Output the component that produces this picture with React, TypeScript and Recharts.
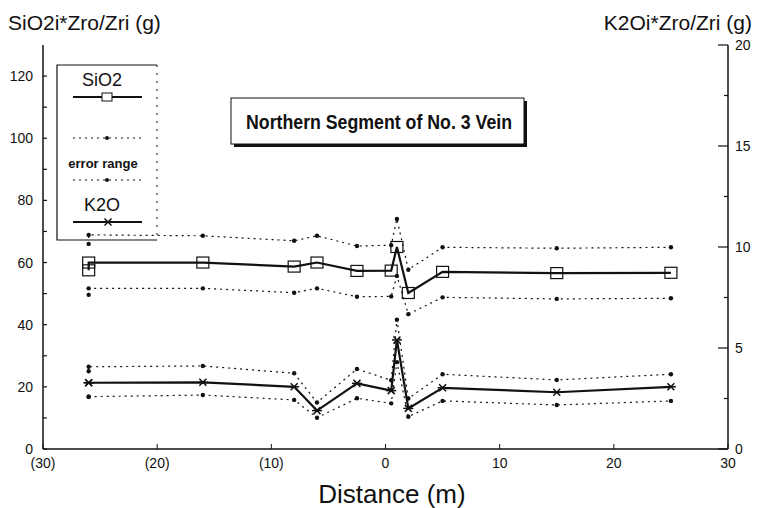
import { LineChart, Line, XAxis, YAxis } from 'recharts'

const DIST = [-26, -26, -16, -8, -6, -2.5, 0.5, 1, 2, 5, 15, 25]
const SIO2 = [57.5, 60, 60, 58.7, 60, 57.3, 57.4, 65, 50.2, 57, 56.6, 56.7]
const SIO2_HI = [66, 68.9, 68.6, 67, 68.6, 65.3, 65.6, 74, 57.7, 64.9, 64.6, 64.9]
const SIO2_LO = [49.6, 51.7, 51.7, 50.3, 51.7, 49, 49.1, 55.7, 43.4, 48.8, 48.3, 48.5]
const K2O = [3.28, 3.28, 3.3, 3.08, 1.9, 3.25, 2.89, 5.4, 2.01, 3.03, 2.81, 3.08]
const K2O_HI = [3.85, 4.07, 4.11, 3.75, 2.3, 3.96, 3.4, 6.4, 2.5, 3.7, 3.42, 3.7]
const K2O_LO = [2.59, 2.59, 2.67, 2.43, 1.55, 2.51, 2.26, 4.3, 1.6, 2.38, 2.18, 2.38]

const X_TICKS = [-30, -20, -10, 0, 10, 20, 30]
const SI_TICKS = [0, 10, 20, 30, 40, 50, 60, 70, 80, 90, 100, 110, 120]
const K_TICKS = [0, 2.5, 5, 7.5, 10, 12.5, 15, 17.5, 20]

const rows = DIST.map((d, i) => ({
  d,
  si: SIO2[i], siHi: SIO2_HI[i], siLo: SIO2_LO[i],
  k: K2O[i], kHi: K2O_HI[i], kLo: K2O_LO[i],
}))

const INK = '#111'
const FONT = '"Liberation Sans", Arial, sans-serif'

function LeftTick({ x, y, payload }: any) {
  const v = payload.value
  return (
    <g>
      <line x1={x + 10} x2={x + 14} y1={y} y2={y} stroke={INK} strokeWidth={1.2} />
      {v % 20 === 0 && (
        <text x={x} y={y} textAnchor="end" dominantBaseline="central" fontSize={14} fill={INK} fontFamily={FONT}>{v}</text>
      )}
    </g>
  )
}

function RightTick({ x, y, payload }: any) {
  const v = payload.value
  const major = v % 5 === 0
  return (
    <g>
      <line x1={x - 7 - (major ? 10 : 4)} x2={x - 7} y1={y} y2={y} stroke={INK} strokeWidth={1.2} />
      {major && (
        <text x={x} y={y} textAnchor="start" dominantBaseline="central" fontSize={14} fill={INK} fontFamily={FONT}>{v}</text>
      )}
    </g>
  )
}

function BottomTick({ x, y, payload }: any) {
  const v = payload.value
  const label = v < 0 ? `(${-v})` : `${v}`
  return (
    <g>
      <line x1={x} x2={x} y1={y - 9} y2={y - 14} stroke={INK} strokeWidth={1} />
      <text x={x} y={y} dy="0.71em" textAnchor="middle" fontSize={14} fill={INK} fontFamily={FONT}>{label}</text>
    </g>
  )
}

function SquareDot({ cx, cy }: any) {
  return <rect x={cx - 6} y={cy - 5.5} width={12} height={11} fill="none" stroke={INK} strokeWidth={1.2} />
}

function StarDot({ cx, cy }: any) {
  return (
    <g stroke={INK} strokeWidth={1.5}>
      <line x1={cx - 5} x2={cx + 5} y1={cy} y2={cy} />
      <line x1={cx - 3.5} x2={cx + 3.5} y1={cy - 3.5} y2={cy + 3.5} />
      <line x1={cx - 3.5} x2={cx + 3.5} y1={cy + 3.5} y2={cy - 3.5} />
    </g>
  )
}

function SmallDot({ cx, cy }: any) {
  return <circle cx={cx} cy={cy} r={2.2} fill={INK} />
}

function Overlay() {
  return (
    <svg width={760} height={508} style={{ position: 'absolute', left: 0, top: 0, pointerEvents: 'none' }} fontFamily={FONT}>
      <text x={8} y={30} fontSize={21} fill={INK}>SiO2i*Zro/Zri (g)</text>
      <text x={752} y={30} fontSize={21} fill={INK} textAnchor="end">K2Oi*Zro/Zri (g)</text>
      <text x={392} y={503} fontSize={26} fill={INK} textAnchor="middle">Distance (m)</text>

      {/* title box */}
      <rect x={234} y={101} width={293} height={46} fill={INK} />
      <rect x={231} y={98} width={293} height={46} fill="#fff" stroke={INK} strokeWidth={1} />
      <text x={379} y={122} fontSize={20} fontWeight="bold" fill={INK} textAnchor="middle" dominantBaseline="central"
        textLength={266} lengthAdjust="spacingAndGlyphs">Northern Segment of No. 3 Vein</text>

      {/* legend */}
      <path d="M157 65 L57 65 L57 240 L157 240" fill="none" stroke={INK} strokeWidth={1.2} />
      <line x1={157} x2={157} y1={65} y2={240} stroke={INK} strokeWidth={1} strokeDasharray="2 6" />
      <text x={102} y={80} fontSize={18} fill={INK} textAnchor="middle" dominantBaseline="central">SiO2</text>
      <line x1={73} x2={142} y1={97} y2={97} stroke={INK} strokeWidth={2} />
      <rect x={102} y={93} width={10} height={8} fill="#fff" stroke={INK} strokeWidth={1} />
      <line x1={73} x2={142} y1={138} y2={138} stroke={INK} strokeWidth={1.2} strokeDasharray="2 4" />
      <circle cx={107} cy={138} r={2} fill={INK} />
      <text x={103} y={163} fontSize={13} fontWeight="bold" fill={INK} textAnchor="middle" dominantBaseline="central">error range</text>
      <line x1={73} x2={142} y1={180} y2={180} stroke={INK} strokeWidth={1.2} strokeDasharray="2 4" />
      <circle cx={107} cy={180} r={2} fill={INK} />
      <text x={102} y={205} fontSize={18} fill={INK} textAnchor="middle" dominantBaseline="central">K2O</text>
      <line x1={73} x2={142} y1={222} y2={222} stroke={INK} strokeWidth={2} />
      <StarDot cx={108} cy={222} />
    </svg>
  )
}

export default function App() {
  return (
    <div style={{ position: 'absolute', left: 0, top: 0, width: 760, height: 508, background: '#fff' }}>
      <LineChart width={760} height={508} data={rows} margin={{ top: 45, right: 0, bottom: 0, left: 0 }}>
        <XAxis dataKey="d" type="number" domain={[-30, 30]} ticks={X_TICKS} height={59}
          tickSize={0} tickMargin={9} tickLine={false} tick={<BottomTick />}
          axisLine={{ stroke: INK, strokeWidth: 1.5 }} />
        <XAxis xAxisId="top" orientation="top" dataKey="d" type="number" domain={[-30, 30]} height={0}
          tick={false} tickLine={false} axisLine={{ stroke: INK, strokeWidth: 1.5 }} />
        <YAxis yAxisId="si" domain={[0, 130]} ticks={SI_TICKS} width={43} interval={0}
          tickSize={0} tickMargin={10} tickLine={false} tick={<LeftTick />}
          axisLine={{ stroke: INK, strokeWidth: 1.5 }} />
        <YAxis yAxisId="k" orientation="right" domain={[0, 20]} ticks={K_TICKS} width={32} interval={0}
          tickSize={0} tickMargin={7} tickLine={false} tick={<RightTick />}
          axisLine={{ stroke: INK, strokeWidth: 1.5 }} />

        <Line yAxisId="si" dataKey="siHi" stroke={INK} strokeWidth={1.2} strokeDasharray="2 4" dot={<SmallDot />} activeDot={false} isAnimationActive={false} />
        <Line yAxisId="si" dataKey="siLo" stroke={INK} strokeWidth={1.2} strokeDasharray="2 4" dot={<SmallDot />} activeDot={false} isAnimationActive={false} />
        <Line yAxisId="k" dataKey="kHi" stroke={INK} strokeWidth={1.2} strokeDasharray="2 4" dot={<SmallDot />} activeDot={false} isAnimationActive={false} />
        <Line yAxisId="k" dataKey="kLo" stroke={INK} strokeWidth={1.2} strokeDasharray="2 4" dot={<SmallDot />} activeDot={false} isAnimationActive={false} />
        <Line yAxisId="si" dataKey="si" stroke={INK} strokeWidth={2.2} dot={<SquareDot />} activeDot={false} isAnimationActive={false} />
        <Line yAxisId="k" dataKey="k" stroke={INK} strokeWidth={2.2} dot={<StarDot />} activeDot={false} isAnimationActive={false} />
      </LineChart>
      <Overlay />
    </div>
  )
}
